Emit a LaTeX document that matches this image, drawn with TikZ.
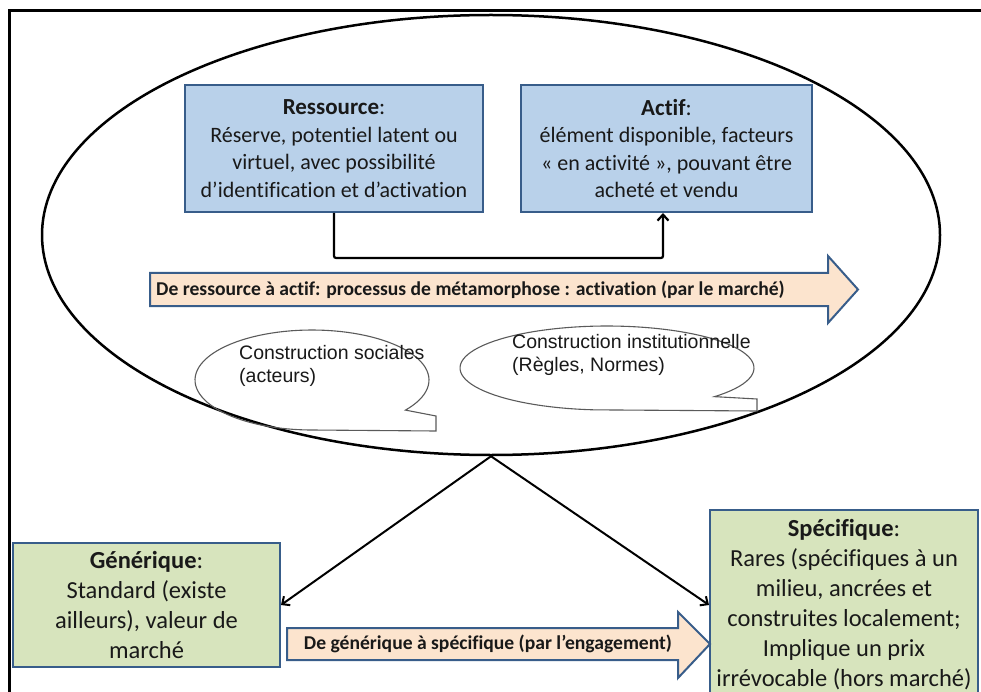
\documentclass[tikz,border=0pt]{standalone}
\usepackage{fontspec}
\setmainfont{Carlito}[Ligatures=NoCommon]
\newfontfamily\arialf{Liberation Sans}
\usetikzlibrary{shapes.geometric,arrows.meta}
\definecolor{bluefill}{RGB}{185,209,234}
\definecolor{greenfill}{RGB}{215,228,189}
\definecolor{boxborder}{RGB}{56,93,138}
\definecolor{peach}{RGB}{252,228,206}
\definecolor{calloutgray}{RGB}{90,90,90}
\definecolor{textdark}{RGB}{25,25,25}
\tikzset{
  bluebox/.style={draw=boxborder, line width=2pt, fill=bluefill, align=center, inner sep=0pt,
    font=\fontsize{22}{27.5}\selectfont, text=textdark},
  greenbox/.style={draw=boxborder, line width=2pt, fill=greenfill, align=center, inner sep=0pt,
    font=\fontsize{24.5}{30}\selectfont, text=textdark},
  conn/.style={line width=2pt, black, -{Straight Barb[length=6pt,width=11pt,line width=2pt]}},
  elbow/.style={line width=2.2pt, black, rounded corners=2pt, -{Straight Barb[length=6pt,width=11pt,line width=2.2pt]}},
  bigarrow/.style={draw=boxborder, line width=2pt, fill=peach, line join=miter},
  arrowtext/.style={inner sep=0pt, font=\bfseries\fontsize{19.6}{22}\selectfont, text=textdark},
  callout/.style={draw=calloutgray, line width=1.1pt, line join=miter},
  calltext/.style={inner sep=0pt, align=left, font=\arialf\fontsize{19.5}{23}\selectfont, text=textdark},
}
\begin{document}
\begin{tikzpicture}[x=1pt,y=-1pt]
\useasboundingbox (0,0) rectangle (981,692);
\clip (0,0) rectangle (981,692);
% outer frame
\coordinate (fbl) at (9,720);
\coordinate (ftl) at (9,11);
\coordinate (ftr) at (1000,11);
\draw[line width=3pt] (fbl) -- (ftl) -- (ftr);
% big ellipse
\node[draw, line width=2.5pt, ellipse, minimum width=898pt, minimum height=440pt, inner sep=0pt] (oval) at (491,235) {};
% top boxes
\node[bluebox, minimum width=298pt, minimum height=127pt] (res) at (334,148.5)
  {{\fontsize{23}{27.5}\selectfont\textbf{Ressource}:}\\Réserve, potentiel latent ou\\virtuel, avec possibilité\\d’identification et d’activation};
\node[bluebox, minimum width=291pt, minimum height=127pt] (act) at (666.5,148.5)
  {{\fontsize{23}{27.5}\selectfont\textbf{Actif}:}\\élément disponible, facteurs\\« en activité », pouvant être\\acheté et vendu};
\coordinate (turn) at (500,258);
\coordinate (acttip) at (663,213);
\draw[elbow] (res.south) |- (turn) -| (acttip);
% big arrow 1
\draw[bigarrow] (150,273) -- (828,273) -- (828,256) -- (858,289.5) -- (828,323) -- (828,306) -- (150,306) -- cycle;
\node[arrowtext, anchor=west] (t1) at (156,289.5) {De ressource à actif: processus de métamorphose : activation (par le marché)};
% callouts
\draw[callout] plot[domain=-37:268, samples=90] ({312+117*cos(\x)},{380-50*sin(\x)}) -- (436,431) -- (436,416) -- cycle;
\node[calltext, anchor=west] (c1) at (239,365.5) {Construction sociales\\(acteurs)};
\draw[callout] plot[domain=-43:265, samples=90] ({607+147*cos(\x)},{368-42*sin(\x)}) -- (757,411) -- (757,399) -- cycle;
\node[calltext, anchor=west] (c2) at (512,354.5) {Construction institutionnelle\\(Règles, Normes)};
% bottom boxes
\node[greenbox, minimum width=267pt, minimum height=124pt] (gen) at (146.5,605)
  {\textbf{Générique}:\\Standard (existe\\ailleurs), valeur de\\marché};
\node[greenbox, minimum width=268pt, minimum height=190pt] (spec) at (844,605)
  {\textbf{Spécifique}:\\Rares (spécifiques à un\\milieu, ancrées et\\construites localement;\\Implique un prix\\irrévocable (hors marché)};
\draw[conn] (oval.south) -- (gen.east);
\draw[conn] (oval.south) -- (spec.west);
% bottom arrow
\draw[bigarrow] (287,628) -- (678,628) -- (678,612) -- (710,644) -- (678,678) -- (678,660) -- (287,660) -- cycle;
\node[arrowtext] (t2) at (488,644) {De générique à spécifique (par l’engagement)};
\end{tikzpicture}
\end{document}
